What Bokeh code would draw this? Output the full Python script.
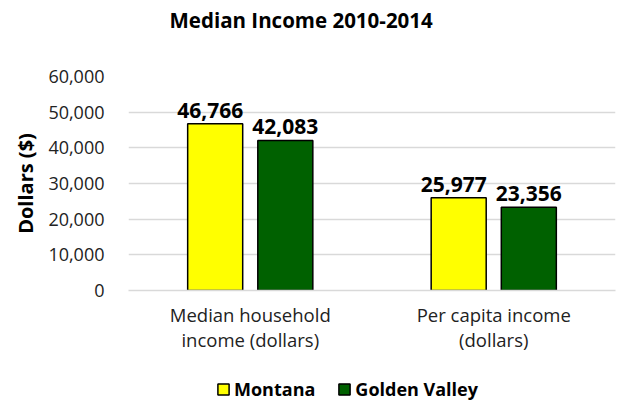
from bokeh.plotting import figure
from bokeh.models import (ColumnDataSource, FactorRange, Range1d, NumeralTickFormatter,
                          FixedTicker, Legend, LegendItem, LabelSet, Label)
from bokeh.layouts import column
from bokeh.core.properties import value
from bokeh.transform import dodge
from bokeh.embed import file_html
from bokeh.resources import INLINE

title_text = "Median Income 2010-2014"
categories = ["Median household\nincome (dollars)", "Per capita income\n(dollars)"]
montana = [46766, 25977]
golden_valley = [42083, 23356]
series_names = ["Montana", "Golden Valley"]
y_ticks = [0, 10000, 20000, 30000, 40000, 50000, 60000]
colors = ["#FFFF00", "#006100"]

FONT = "Open Sans"

src = ColumnDataSource(dict(
    cat=categories,
    mt=montana,
    gv=golden_valley,
    mt_lbl=[f"{v:,}" for v in montana],
    gv_lbl=[f"{v:,}" for v in golden_valley],
))


def strip(h):
    f = figure(x_range=Range1d(0, 1), y_range=Range1d(0, 1), width=617, height=h,
               output_backend="svg", toolbar_location=None,
               min_border_left=0, min_border_right=0, min_border_top=0, min_border_bottom=0)
    f.axis.visible = False
    f.grid.visible = False
    f.outline_line_color = None
    return f


# title strip
top = strip(40)
top.add_layout(Label(x=41, y=21, x_units="screen", y_units="screen", text=title_text,
                     text_font=FONT, text_font_size="20.5px", text_font_style="bold",
                     text_color="black", text_baseline="alphabetic", text_align="left"))

main = figure(x_range=FactorRange(*categories), y_range=Range1d(0, 60000),
              width=617, height=330, output_backend="svg", toolbar_location=None,
              min_border_left=128, min_border_right=2, min_border_top=36, min_border_bottom=80)
main.outline_line_color = None

main.vbar(x=dodge("cat", -0.144, range=main.x_range), top="mt", width=0.226, source=src,
          fill_color=colors[0], line_color="black", line_width=1.5)
main.vbar(x=dodge("cat", 0.144, range=main.x_range), top="gv", width=0.226, source=src,
          fill_color=colors[1], line_color="black", line_width=1.5)

for col, off, xo in (("mt", -0.144, -5), ("gv", 0.144, 0)):
    main.add_layout(LabelSet(x=dodge("cat", off, range=main.x_range), y=col, text=col + "_lbl",
                             source=src, text_align="center", text_baseline="bottom",
                             x_offset=xo, y_offset=6, text_font=value(FONT),
                             text_font_size=value("21px"),
                             text_font_style="bold", text_color="black"))

main.yaxis.ticker = FixedTicker(ticks=y_ticks)
main.yaxis.formatter = NumeralTickFormatter(format="0,0")
main.yaxis.axis_line_color = None
main.yaxis.major_tick_line_color = None
main.yaxis.minor_tick_line_color = None
main.yaxis.major_label_standoff = 18
main.yaxis.major_label_text_font = FONT
main.yaxis.major_label_text_font_size = "18px"
main.yaxis.major_label_text_color = "#222222"
main.yaxis.axis_label = "Dollars ($)"
main.yaxis.axis_label_text_font = FONT
main.yaxis.axis_label_text_font_size = "20px"
main.yaxis.axis_label_text_font_style = "bold"
main.yaxis.axis_label_text_color = "black"
main.yaxis.axis_label_standoff = 6

main.xaxis.axis_line_color = "#d9d9d9"
main.xaxis.axis_line_width = 1.5
main.xaxis.major_tick_line_color = None
main.xaxis.minor_tick_line_color = None
main.xaxis.major_label_standoff = 5
main.xaxis.major_label_text_font = FONT
main.xaxis.major_label_text_font_size = "18.5px"
main.xaxis.major_label_text_line_height = 1.0
main.xaxis.major_label_text_color = "#222222"

main.xgrid.grid_line_color = None
main.ygrid.grid_line_color = "#d9d9d9"
main.ygrid.grid_line_width = 1.5

# legend strip
leg = strip(34)
nan = float("nan")
l1 = leg.vbar(x=[nan], top=[nan], width=0.1,
              fill_color=colors[0], line_color="black", line_width=1.5)
l2 = leg.vbar(x=[nan], top=[nan], width=0.1,
              fill_color=colors[1], line_color="black", line_width=1.5)
legend = Legend(items=[LegendItem(label=series_names[0], renderers=[l1]),
                       LegendItem(label=series_names[1], renderers=[l2])],
                orientation="horizontal", location=(88, 3),
                label_text_font=FONT, label_text_font_size="18px",
                label_text_font_style="bold", label_text_color="black",
                glyph_width=14, glyph_height=14,
                label_standoff=4, spacing=22, padding=2, margin=0,
                border_line_color=None, background_fill_alpha=0)
leg.add_layout(legend, "center")

p = column(top, main, leg, spacing=0)

open("out.html", "w").write(file_html(p, INLINE))
